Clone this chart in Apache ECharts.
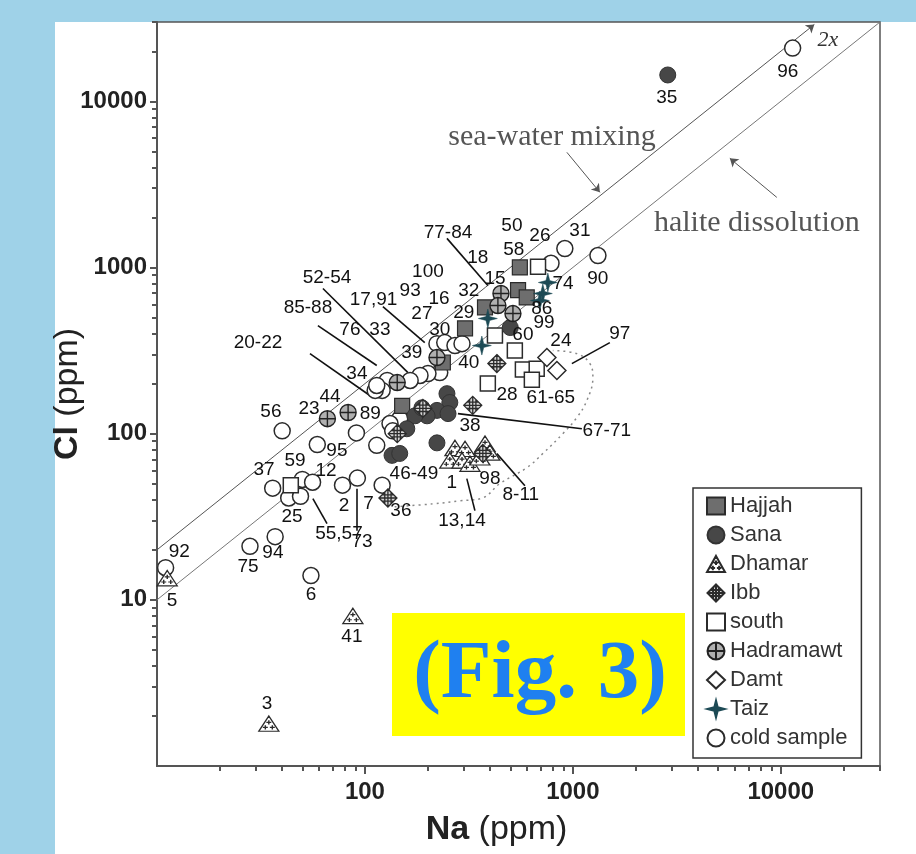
<!DOCTYPE html>
<html>
<head>
<meta charset="utf-8">
<script src="https://cdn.jsdelivr.net/npm/echarts@6/dist/echarts.min.js"></script>
<style>
  html, body { margin: 0; padding: 0; background: #9fd2e8; }
  #chart { width: 916px; height: 854px; }
</style>
</head>
<body>
<div id="chart"></div>
<script>
// Na / Cl (ppm) pairs, one array per region
const hajjah = [[556, 1000], [545, 730], [600, 660], [378, 575], [303, 430], [237, 268], [151, 147]];
const sana = [[2860, 14400], [500, 435], [248, 174], [256, 154], [222, 138], [251, 132], [199, 128],
  [174, 128], [188, 143], [159, 107], [135, 74], [147, 76], [222, 88]];
const dhamar = [[34.5, 1.8], [87.5, 8], [11.2, 13.5], [271, 82], [303, 81], [256, 69], [293, 69],
  [320, 66], [378, 87], [399, 77], [357, 72]];
const ibb = [[129, 41], [143, 100], [190, 142], [330, 148], [431, 264], [369, 76]];
const south = [[680, 1010], [422, 390], [526, 316], [575, 243], [670, 246], [635, 211], [390, 200], [44, 49]];
const hadramawt = [[451, 697], [436, 590], [515, 528], [222, 287], [143, 203], [66, 123], [83, 134]];
const damt = [[750, 287], [838, 240]];
const taiz = [[758, 812], [717, 697], [694, 632], [390, 493], [365, 339]];
const cold = [[11400, 20900], [915, 1300], [1320, 1180], [785, 1060], [222, 348], [242, 353], [271, 339],
  [293, 348], [229, 233], [201, 230], [184, 224], [165, 209], [128, 209], [121, 182], [112, 182],
  [114, 195], [147, 123], [132, 115], [136, 104], [114, 85], [91, 101], [40, 104], [59, 86], [36, 47],
  [50, 53], [56, 51], [43, 41], [49, 42], [78, 49], [92, 54], [121, 49], [37, 24], [28, 21], [11, 15.6], [55, 14]];

// reference lines
const haliteLine = [[10, 10], [30000, 30000]];
const mixLine = [[10, 20], [14500, 29000]];
const noteArrows = [[[936, 4930], [1349, 2831]], [[9570, 2641], [5688, 4536]]];
const ellipse = [[139, 36.3], [212, 37.8], [286, 39.4], [369, 41.1], [445, 50], [601, 62.4], [717, 75.9],
  [895, 100], [1045, 125], [1167, 158], [1248, 217], [1208, 264], [1045, 303], [801, 316]];

// leader lines from sample numbers to points
const leaders = [
  [[248, 1496], [390, 779]], [[62.8, 747], [161, 233]], [[122, 582], [194, 353]],
  [[59.4, 447], [114, 257]], [[54.4, 303], [109, 165]], [[1506, 353], [989, 264]],
  [[1105, 107], [280, 132]], [[588, 48.6], [431, 75.8]], [[338, 34.4], [309, 53.6]],
  [[65.7, 28.7], [56.2, 40.6]], [[91.5, 46.6], [91.5, 26.0]]
];

// sample numbers: [text, Na, Cl]
const pointLabels = [
  ['96', 10810, 14950], ['35', 2831, 10570], ['50', 509, 1791], ['26', 694, 1559], ['31', 1081, 1671],
  ['58', 520, 1284], ['18', 349, 1148], ['77-84', 251, 1625], ['100', 201, 946], ['15', 422, 859],
  ['93', 165, 727], ['16', 227, 651], ['32', 316, 727], ['17,91', 110, 642], ['52-54', 65.7, 871],
  ['85-88', 53.2, 574], ['27', 188, 528], ['29', 299, 535], ['76', 84.7, 423], ['33', 118, 423],
  ['30', 229, 423], ['39', 168, 307], ['40', 316, 268], ['60', 575, 395], ['86', 709, 566],
  ['99', 727, 466], ['74', 896, 801], ['90', 1318, 859], ['24', 876, 363], ['97', 1683, 400],
  ['20-22', 30.6, 353], ['34', 91.5, 230], ['28', 482, 172], ['61-65', 784, 165], ['38', 320, 112],
  ['67-71', 1456, 104], ['44', 67.9, 167], ['23', 53.8, 141], ['89', 106, 132], ['56', 35.3, 136],
  ['95', 73.3, 79], ['59', 46.1, 68.8], ['37', 32.7, 60.7], ['12', 65, 59.8], ['46-49', 172, 57.4],
  ['1', 262, 50.7], ['98', 399, 53.6], ['8-11', 562, 42.9], ['13,14', 293, 29.9], ['25', 44.6, 31.6],
  ['55,57', 75, 25], ['2', 79.3, 36.8], ['7', 104, 37.9], ['36', 149, 34.4], ['73', 96.8, 22.4],
  ['92', 12.8, 19.5], ['94', 36.1, 19.2], ['75', 27.4, 15.8], ['5', 11.8, 9.86], ['6', 55, 10.7],
  ['41', 86.6, 5.98], ['3', 33.8, 2.36]
];
const noteLabels = [['sea-water mixing', 793, 6067], ['halite dissolution', 7670, 1841]];
const twoX = [['2x', 16830, 23300]];

// axis ticks
const xTickLabels = [100, 1000, 10000];
const yTickLabels = [10, 100, 1000, 10000];
const xMinor = [20, 30, 40, 50, 60, 70, 80, 90, 200, 300, 400, 500, 600, 700, 800, 900,
  2000, 3000, 4000, 5000, 6000, 7000, 8000, 9000, 20000, 30000];
const yMinor = [2, 3, 4, 5, 6, 7, 8, 9, 20, 30, 40, 50, 60, 70, 80, 90, 200, 300, 400, 500, 600, 700, 800, 900,
  2000, 3000, 4000, 5000, 6000, 7000, 8000, 9000, 20000, 30000];

const legendNames = ['Hajjah', 'Sana', 'Dhamar', 'Ibb', 'south', 'Hadramawt', 'Damt', 'Taiz', 'cold sample'];

const SANS = '"Liberation Sans", Arial, sans-serif';
const SERIF = '"Liberation Serif", "Times New Roman", serif';
const INK = '#2b2b2b';

const SYM_TRI = 'path://M10,0L20,18L0,18Z M10,5L10,10 M7.5,7.5L12.5,7.5 M6.5,11L6.5,16 M4,13.5L9,13.5 M13.5,11L13.5,16 M11,13.5L16,13.5';
const SYM_CROSSCIRCLE = 'path://M0,10A10,10 0 1,1 20,10A10,10 0 1,1 0,10Z M10,0L10,20 M0,10L20,10';
const SYM_GRIDDIAMOND = 'path://M10,0L20,10L10,20L0,10Z M6.5,3.5L6.5,16.5 M10,0L10,20 M13.5,3.5L13.5,16.5 M3.5,6.5L16.5,6.5 M0,10L20,10 M3.5,13.5L16.5,13.5';
const SYM_STAR = 'path://M10,0L12,8L20,10L12,12L10,20L8,12L0,10L8,8Z';

function pts(name, data, symbol, size, fill, stroke, bw) {
  return {
    name, type: 'scatter', data, symbol, symbolSize: size, symbolKeepAspect: true,
    itemStyle: { color: fill, borderColor: stroke, borderWidth: bw, opacity: 1 },
    z: 4, silent: true
  };
}

function textSeries(name, list, label) {
  return {
    name, type: 'scatter', symbolSize: 1, silent: true, z: 6,
    itemStyle: { color: 'rgba(0,0,0,0)', opacity: 1 },
    data: list.map(d => ({ name: d[0], value: [d[1], d[2]] })),
    label: Object.assign({ show: true, position: 'inside', formatter: '{b}', opacity: 1 }, label)
  };
}

const chart = echarts.init(document.getElementById('chart'));

const logAxisBase = { type: 'log', logBase: 10, splitLine: { show: false } };
const tickLine = { color: '#555', width: 2 };
const titleStyle = {
  fontSize: 34, color: '#222', fontFamily: SANS,
  rich: { b: { fontSize: 34, fontWeight: 'bold', color: '#222', fontFamily: SANS } }
};

chart.setOption({
  backgroundColor: '#9fd2e8',
  animation: false,
  graphic: [
    { type: 'rect', z: -100, shape: { x: 55, y: 22, width: 861, height: 832 }, style: { fill: '#fff' } },
    { type: 'rect', z: 50, shape: { x: 392, y: 613, width: 293, height: 123 }, style: { fill: '#ffff00' } },
    {
      type: 'text', z: 51, x: 540, y: 676,
      style: {
        text: '(Fig. 3)', fontSize: 83, fontWeight: 'bold', fontFamily: SERIF,
        fill: '#1f80f0', align: 'center', verticalAlign: 'middle'
      }
    }
  ],
  grid: { left: 157, right: 36, top: 22, bottom: 88, show: true, borderColor: '#555', borderWidth: 1.5 },
  legend: {
    orient: 'vertical', left: 693, top: 488, data: legendNames, selectedMode: false,
    backgroundColor: '#fff', borderColor: '#333', borderWidth: 1.5, padding: [7, 14, 9, 13],
    itemGap: 7, itemWidth: 18, itemHeight: 17,
    textStyle: { fontSize: 22, color: '#333', fontFamily: SANS }
  },
  xAxis: [
    Object.assign({}, logAxisBase, {
      min: 10, max: 30000,
      axisLine: { show: true, lineStyle: tickLine },
      axisTick: { customValues: xTickLabels, length: 8, lineStyle: tickLine },
      axisLabel: {
        customValues: xTickLabels, formatter: v => String(Math.round(v)),
        fontSize: 24, fontWeight: 'bold', color: '#222', fontFamily: SANS, margin: 14
      },
      name: '{b|Na} (ppm)', nameLocation: 'middle', nameGap: 47, nameMoveOverlap: false,
      nameTextStyle: Object.assign({ padding: [0, 44, 0, 0] }, titleStyle)
    }),
    Object.assign({}, logAxisBase, {
      min: 10, max: 30000, position: 'bottom',
      axisLine: { show: false },
      axisTick: { customValues: xMinor, length: 5, lineStyle: tickLine },
      axisLabel: { show: false }
    })
  ],
  yAxis: [
    Object.assign({}, logAxisBase, {
      min: 1, max: 30000,
      axisLine: { show: true, lineStyle: tickLine },
      axisTick: { customValues: yTickLabels, length: 7, lineStyle: tickLine },
      axisLabel: {
        customValues: yTickLabels, formatter: v => String(Math.round(v)),
        fontSize: 24, fontWeight: 'bold', color: '#222', fontFamily: SANS, margin: 10
      },
      name: '{b|Cl} (ppm)', nameLocation: 'middle', nameGap: 72, nameRotate: 90, nameMoveOverlap: false,
      nameTextStyle: titleStyle
    }),
    Object.assign({}, logAxisBase, {
      min: 1, max: 30000, position: 'left',
      axisLine: { show: false },
      axisTick: { customValues: yMinor, length: 5, lineStyle: tickLine },
      axisLabel: { show: false }
    })
  ],
  series: [
    {
      name: 'halite', type: 'lines', coordinateSystem: 'cartesian2d', silent: true, z: 2,
      data: [{ coords: haliteLine }], symbol: 'none',
      lineStyle: { color: '#777', width: 1, opacity: 1 }
    },
    {
      name: 'arrows', type: 'lines', coordinateSystem: 'cartesian2d', silent: true, z: 2,
      data: [{ coords: mixLine }].concat(noteArrows.map(c => ({ coords: c }))),
      symbol: ['none', 'arrow'], symbolSize: 8,
      lineStyle: { color: '#555', width: 1, opacity: 1 }
    },
    {
      name: 'field', type: 'line', data: ellipse, smooth: 0.4, showSymbol: false, silent: true, z: 2,
      lineStyle: { color: '#888', width: 1.5, type: [2, 4] }
    },
    {
      name: 'leaders', type: 'lines', coordinateSystem: 'cartesian2d', silent: true, z: 3,
      data: leaders.map(c => ({ coords: c })), symbol: 'none',
      lineStyle: { color: '#111', width: 1.6, opacity: 1 }
    },
    pts('cold sample', cold, 'circle', 16, '#fff', INK, 1.5),
    pts('south', south, 'rect', 15, '#fff', INK, 1.5),
    pts('Damt', damt, 'diamond', 18, '#fff', INK, 1.5),
    pts('Hajjah', hajjah, 'rect', 15, '#6e6e6e', INK, 1.2),
    pts('Sana', sana, 'circle', 16, '#474747', '#333', 1),
    pts('Dhamar', dhamar, SYM_TRI, [20, 17], '#fff', INK, 1.3),
    pts('Ibb', ibb, SYM_GRIDDIAMOND, 18, '#d4d4d4', INK, 1.3),
    pts('Hadramawt', hadramawt, SYM_CROSSCIRCLE, 16, '#b0b0b0', '#222', 1.4),
    pts('Taiz', taiz, SYM_STAR, 19, '#1d4a55', '#1d4a55', 0.5),
    textSeries('labels', pointLabels, { fontSize: 19, color: '#111', fontFamily: SANS }),
    textSeries('notes', noteLabels, { fontSize: 30, color: '#555', fontFamily: SERIF }),
    textSeries('twox', twoX, { fontSize: 22, color: '#333', fontFamily: SERIF, fontStyle: 'italic' })
  ]
});

window.addEventListener('resize', () => chart.resize());
</script>
</body>
</html>
